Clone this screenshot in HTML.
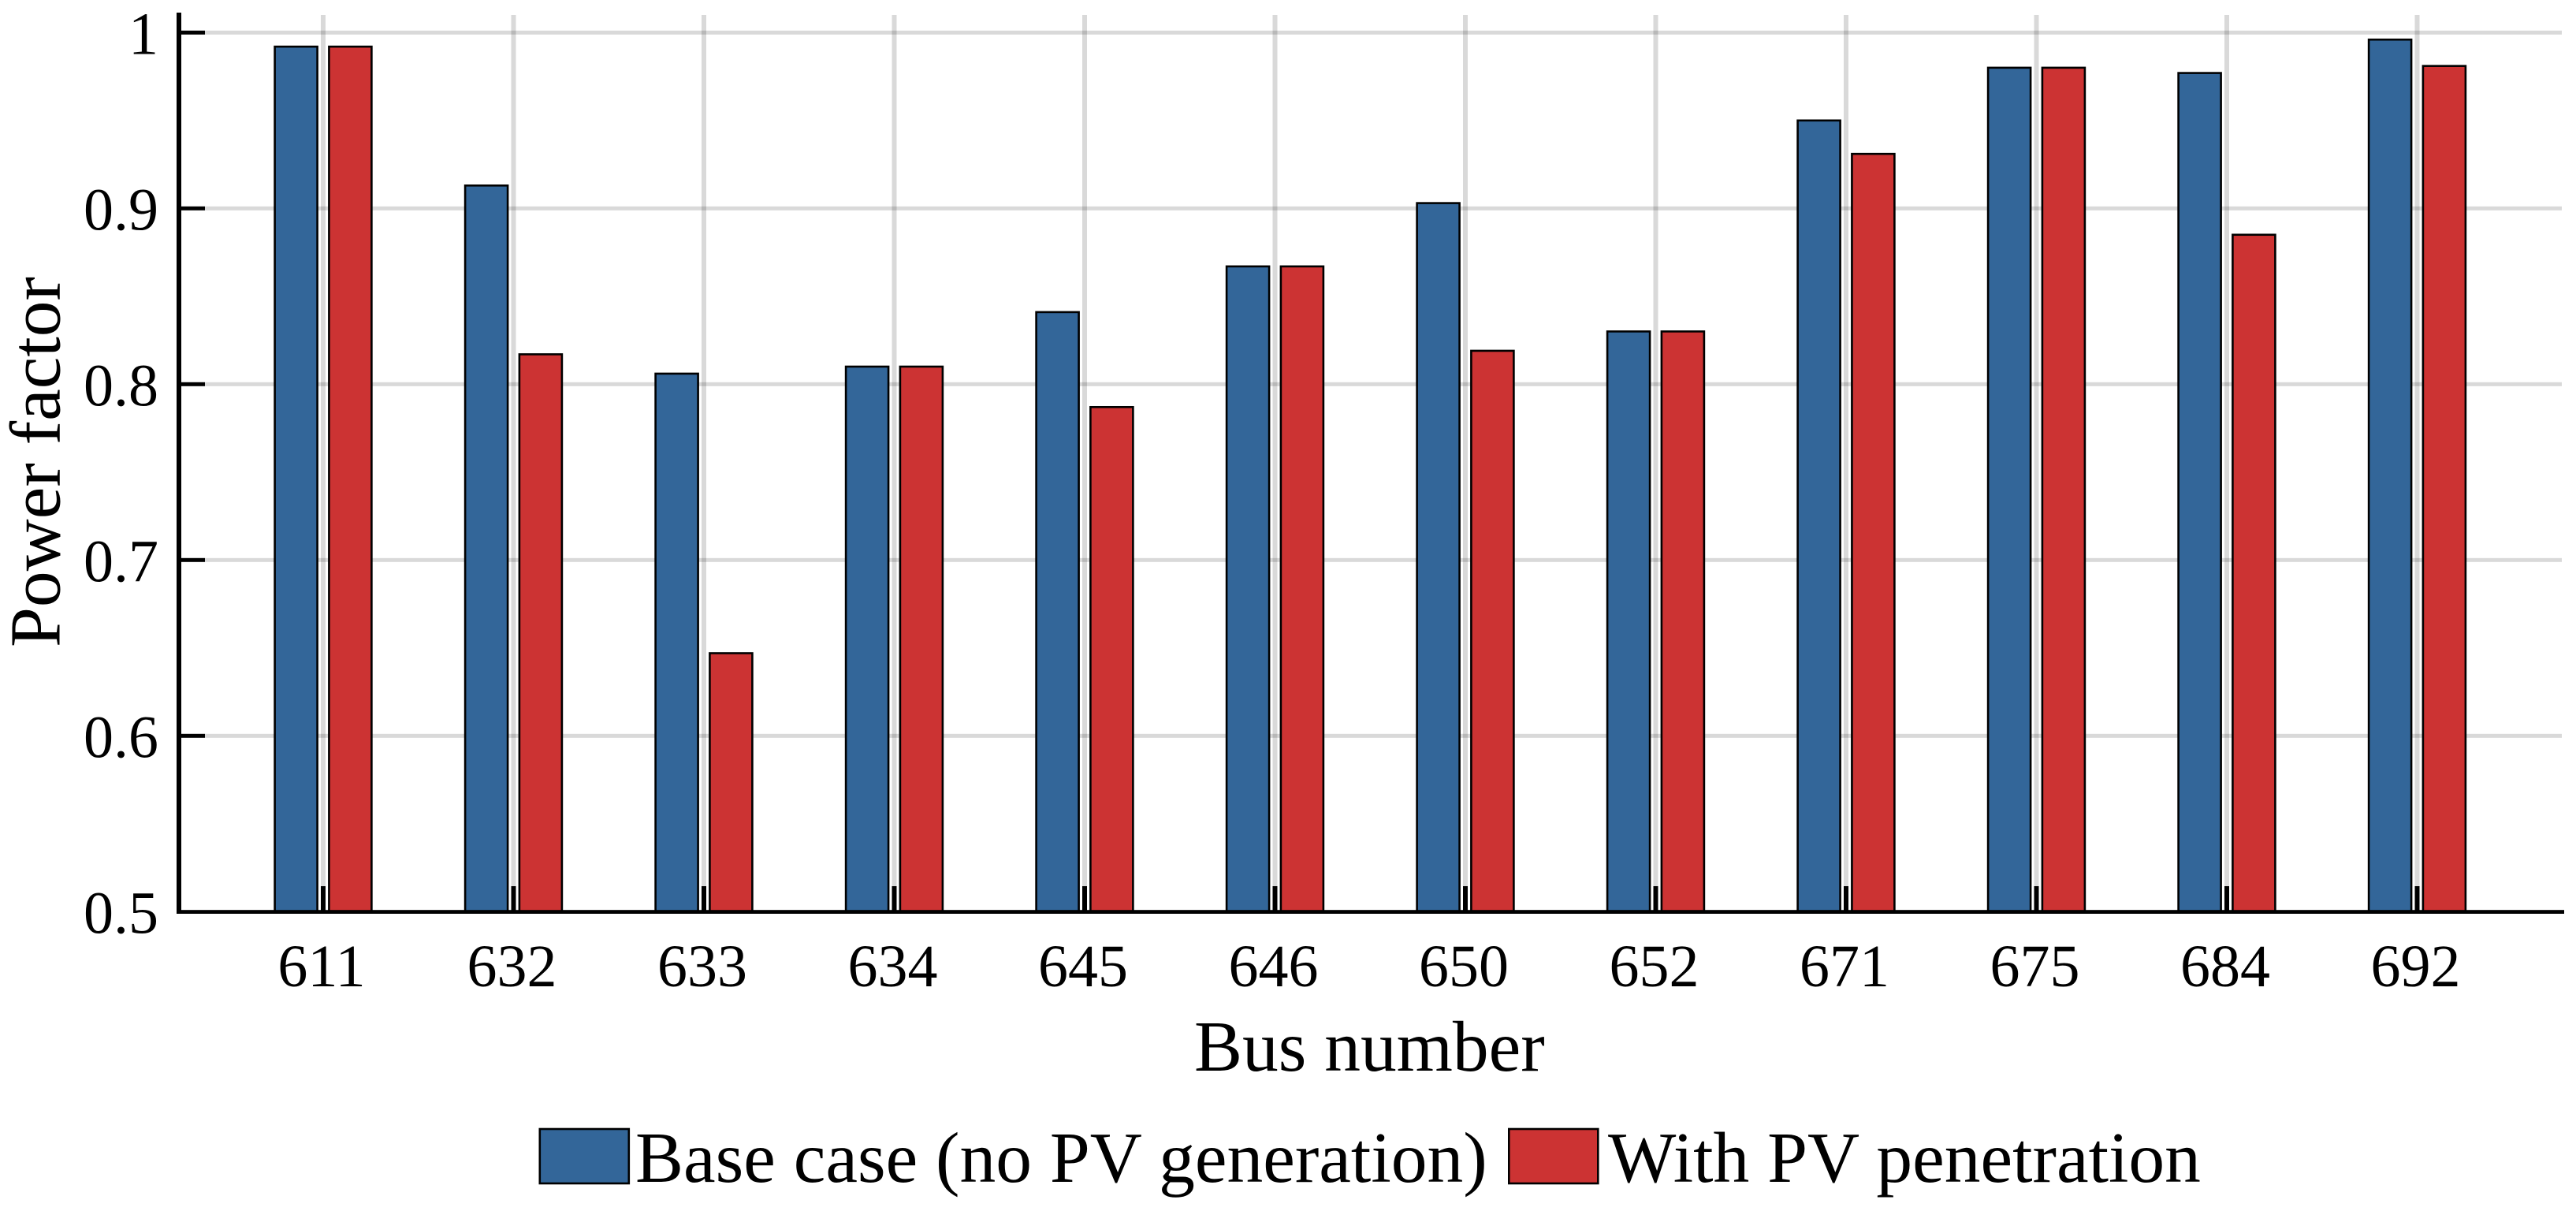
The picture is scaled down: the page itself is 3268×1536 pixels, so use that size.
<!DOCTYPE html>
<html lang="en">
<head>
<meta charset="utf-8">
<title>Power factor by bus number</title>
<style>
html,body{margin:0;padding:0;background:#fff;width:3268px;height:1536px;overflow:hidden}
svg{display:block}
text{font-family:"Liberation Serif",serif;fill:#000}
</style>
</head>
<body>
<svg id="chart" xmlns="http://www.w3.org/2000/svg" width="3268" height="1536" viewBox="0 0 3268 1536">
  <rect x="0" y="0" width="3268" height="1536" fill="#ffffff"/>
  <g id="grid"></g>
  <g id="bars"></g>
  <g id="ticks"></g>
  <rect x="224" y="16" width="6" height="1143"/>
  <rect x="224" y="1154.2" width="3029" height="4.8"/>
  <g id="labels"></g>
  <text transform="translate(75.5,821) rotate(-90)" font-size="91.5">Power factor</text>
  <text x="1515" y="1358" font-size="91.5">Bus number</text>
  <g>
    <g>
      <rect x="684.8" y="1432" width="113" height="69" fill="#336699" stroke="#000" stroke-width="2.6"/>
      <text x="806" y="1499" font-size="91.5">Base case (no PV generation)</text>
    </g>
    <g>
      <rect x="1914.3" y="1432" width="113" height="69" fill="#cc3333" stroke="#000" stroke-width="2.6"/>
      <text x="2040" y="1499" font-size="91.5">With PV penetration</text>
    </g>
  </g>
</svg>
<script>
const categories = ["611","632","633","634","645","646","650","652","671","675","684","692"];
const baseCase = [0.992,0.913,0.806,0.810,0.841,0.867,0.903,0.830,0.950,0.980,0.977,0.996];
const withPV = [0.992,0.817,0.647,0.810,0.787,0.867,0.819,0.830,0.931,0.980,0.885,0.981];
const yTickValues = [0.5,0.6,0.7,0.8,0.9,1];
const yTickLabels = ["0.5","0.6","0.7","0.8","0.9","1"];

const NS = "http://www.w3.org/2000/svg";
const yAt = v => 41.3 + (1 - v) * 2230;
const xAt = i => 410 + i * 241.5;
const barOffset = 34.4;
const barWidth = 54;
const gridG = document.getElementById("grid");
const barsG = document.getElementById("bars");
const ticksG = document.getElementById("ticks");
const labelsG = document.getElementById("labels");

function rect(parent, x, y, w, h, fill, opacity) {
  const r = document.createElementNS(NS, "rect");
  r.setAttribute("x", x);
  r.setAttribute("y", y);
  r.setAttribute("width", w);
  r.setAttribute("height", h);
  r.setAttribute("fill", fill);
  if (opacity !== undefined) r.setAttribute("fill-opacity", opacity);
  parent.appendChild(r);
  return r;
}
function label(str, x, y, anchor) {
  const t = document.createElementNS(NS, "text");
  t.setAttribute("x", x);
  t.setAttribute("y", y);
  t.setAttribute("font-size", "76");
  t.setAttribute("text-anchor", anchor);
  t.textContent = str;
  labelsG.appendChild(t);
  return t;
}

yTickValues.forEach((v, k) => {
  const y = yAt(v);
  if (v > 0.5) {
    const g = rect(gridG, 260, y - 2.5, 2990, 5, "#000", 0.15);
    
    
    const t = rect(ticksG, 230, y - 2.5, 30, 5, "#000");
    
    
  }
  const l = label(yTickLabels[k], 201, y + 27, "end");
  
  
});

categories.forEach((c, i) => {
  const x = xAt(i);
  const g = rect(gridG, x - 3, 19, 6, yAt(0.5) - 19, "#000", 0.15);
  
  

  const t = rect(ticksG, x - 3, 1124, 6, 32, "#000");
  
  

  const yb = yAt(baseCase[i]);
  const b1 = rect(barsG, x - barOffset - barWidth / 2, yb, barWidth, yAt(0.5) - yb, "#336699");
  b1.setAttribute("stroke", "#000");
  b1.setAttribute("stroke-width", "2.6");
  
  

  const yp = yAt(withPV[i]);
  const b2 = rect(barsG, x + barOffset - barWidth / 2, yp, barWidth, yAt(0.5) - yp, "#cc3333");
  b2.setAttribute("stroke", "#000");
  b2.setAttribute("stroke-width", "2.6");
  
  

  const l = label(c, x - 2, 1251, "middle");
  
  
});
</script>
</body>
</html>
